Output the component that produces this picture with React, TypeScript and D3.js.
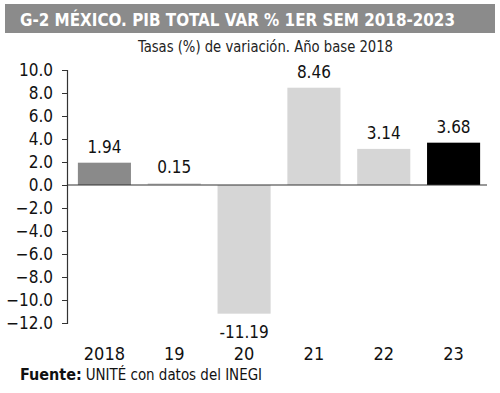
import { useEffect, useRef } from "react";
import * as d3 from "d3";

const WIDTH = 500;
const HEIGHT = 393;
const FONT = "'DejaVu Sans Condensed', 'Liberation Sans Narrow', 'DejaVu Sans', sans-serif";

const years = ["2018", "19", "20", "21", "22", "23"];
const values = [1.94, 0.15, -11.19, 8.46, 3.14, 3.68];
const labels = ["1.94", "0.15", "-11.19", "8.46", "3.14", "3.68"];
const barColors = ["#8a8a8a", "#d6d6d6", "#d6d6d6", "#d6d6d6", "#d6d6d6", "#000000"];
const yTicks = [10, 8, 6, 4, 2, 0, -2, -4, -6, -8, -10, -12];

const App = () => {
  const svgRef = useRef<SVGSVGElement | null>(null);

  useEffect(() => {
    const svg = d3.select(svgRef.current);
    svg.selectAll("*").remove();

    const x = d3
      .scaleBand()
      .domain(years)
      .range([69.5, 488.5])
      .paddingInner(0.24)
      .paddingOuter(0.12);
    const y = d3.scaleLinear().domain([-12, 10]).range([323, 70]);

    // title bar
    svg
      .append("rect")
      .attr("x", 5)
      .attr("y", 4)
      .attr("width", 490)
      .attr("height", 29)
      .attr("fill", "#8b8b8b");
    svg
      .append("text")
      .attr("x", 20)
      .attr("y", 26)
      .attr("fill", "#fff")
      .attr("font-weight", "bold")
      .attr("font-size", 17)
      .attr("textLength", 435)
      .attr("lengthAdjust", "spacingAndGlyphs")
      .text("G-2 MÉXICO. PIB TOTAL VAR % 1ER SEM 2018-2023");
    svg
      .append("text")
      .attr("x", 138)
      .attr("y", 52)
      .attr("fill", "#222")
      .attr("font-size", 16)
      .attr("textLength", 255)
      .attr("lengthAdjust", "spacingAndGlyphs")
      .text("Tasas (%) de variación. Año base 2018");

    // bars
    svg
      .append("g")
      .selectAll("rect")
      .data(values)
      .join("rect")
      .attr("x", (_, i) => x(years[i])!)
      .attr("width", x.bandwidth())
      .attr("y", (d) => y(Math.max(0, d)))
      .attr("height", (d) => Math.abs(y(d) - y(0)))
      .attr("fill", (_, i) => barColors[i]);

    // value labels
    svg
      .append("g")
      .selectAll("text")
      .data(values)
      .join("text")
      .attr("x", (_, i) => x(years[i])! + x.bandwidth() / 2)
      .attr("y", (d) => (d >= 0 ? y(d) - 10 : y(d) + 24))
      .attr("text-anchor", "middle")
      .attr("font-size", 17)
      .attr("fill", "#111")
      .text((_, i) => labels[i]);

    // y axis
    const yAxis = svg
      .append("g")
      .attr("transform", "translate(67,0)")
      .call(
        d3
          .axisLeft(y)
          .tickValues(yTicks)
          .tickSize(5)
          .tickPadding(9)
          .tickFormat((d) => d3.format(".1f")(d as number))
      );
    yAxis.select(".domain").attr("stroke", "#333").attr("stroke-width", 1.2);
    yAxis.selectAll("line").attr("stroke", "#333");
    yAxis
      .selectAll("text")
      .attr("font-family", FONT)
      .attr("font-size", 17)
      .attr("fill", "#111");

    // zero line
    svg
      .append("line")
      .attr("x1", 67)
      .attr("x2", 487)
      .attr("y1", y(0))
      .attr("y2", y(0))
      .attr("stroke", "#333")
      .attr("stroke-width", 1.2);

    // x labels
    svg
      .append("g")
      .selectAll("text")
      .data(years)
      .join("text")
      .attr("x", (d) => x(d)! + x.bandwidth() / 2)
      .attr("y", 360)
      .attr("text-anchor", "middle")
      .attr("font-size", 18)
      .attr("fill", "#111")
      .text((d) => d);

    // source
    const fuente = svg
      .append("text")
      .attr("x", 20)
      .attr("y", 380)
      .attr("font-size", 16)
      .attr("font-weight", "bold")
      .attr("fill", "#111")
      .text("Fuente:");
    const w = (fuente.node() as SVGTextElement).getComputedTextLength();
    const start = 20 + w + 4;
    svg
      .append("text")
      .attr("x", start)
      .attr("y", 380)
      .attr("font-size", 16)
      .attr("fill", "#111")
      .attr("textLength", 262 - start)
      .attr("lengthAdjust", "spacingAndGlyphs")
      .text("UNITÉ con datos del INEGI");
  }, []);

  return (
    <svg
      ref={svgRef}
      width={WIDTH}
      height={HEIGHT}
      style={{ position: "absolute", left: 0, top: 0, background: "#fff", fontFamily: FONT }}
    />
  );
};

export default App;
